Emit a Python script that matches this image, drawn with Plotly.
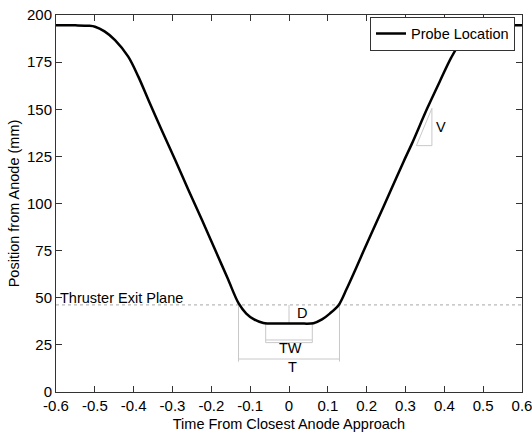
import plotly.graph_objects as go

# Probe trajectory
time_s = [-0.6, -0.55, -0.515, -0.4995, -0.475, -0.448, -0.414, -0.388, -0.362, -0.328,
          -0.293, -0.259, -0.224, -0.190, -0.158, -0.130, -0.110, -0.090, -0.066, -0.03,
          0.0, 0.03, 0.063, 0.085, 0.105, 0.128, 0.148, 0.170, 0.192, 0.227,
          0.261, 0.295, 0.316, 0.356, 0.390, 0.418, 0.445, 0.475, 0.505, 0.54, 0.6]
position_mm = [194.5, 194.5, 194.3, 193.8, 191.3, 186.7, 177.9, 167.3, 154.9, 139.0,
               123.1, 107.2, 91.2, 75.3, 60.3, 47.1, 41.6, 38.5, 36.6, 36.3,
               36.3, 36.3, 36.5, 38.5, 41.6, 46.2, 54.5, 64.5, 74.8, 90.8,
               106.5, 122.2, 131.5, 150.5, 165.5, 177.5, 186.5, 192.0, 194.2, 194.5, 194.5]

exit_plane_mm = 46.2
closest_mm = 36.4
tw_half = 0.06
t_half = 0.13
tw_bar_mm = 27.6
t_bar_mm = 17.5
v_tri_x = [0.328, 0.368, 0.368, 0.328]
v_tri_y = [130.7, 130.7, 150.5, 130.7]

x_ticks = [-0.6, -0.5, -0.4, -0.3, -0.2, -0.1, 0, 0.1, 0.2, 0.3, 0.4, 0.5, 0.6]
x_tick_text = ["-0.6", "-0.5", "-0.4", "-0.3", "-0.2", "-0.1", "0", "0.1", "0.2", "0.3", "0.4", "0.5", "0.6"]
y_ticks = [0, 25, 50, 75, 100, 125, 150, 175, 200]

FONT = "Liberation Sans, Arial, sans-serif"
GRAY = "#c8c8c8"

fig = go.Figure()

def gray_line(xs, ys, color=GRAY, dash="solid"):
    fig.add_trace(go.Scatter(x=xs, y=ys, mode="lines", showlegend=False, hoverinfo="skip",
                             line=dict(color=color, width=1, dash=dash)))

# exit plane dotted line
gray_line([-0.6, 0.6], [exit_plane_mm, exit_plane_mm], color="#a8a8a8", dash="dot")
# D
gray_line([0, 0], [exit_plane_mm, closest_mm])
# TW bracket
gray_line([-tw_half, -tw_half, tw_half, tw_half], [closest_mm, tw_bar_mm - 1.4, tw_bar_mm - 1.4, closest_mm])
gray_line([-tw_half, tw_half], [tw_bar_mm, tw_bar_mm])
# T bracket
gray_line([-t_half, -t_half], [exit_plane_mm, t_bar_mm - 1.4])
gray_line([t_half, t_half], [exit_plane_mm, t_bar_mm - 1.4])
gray_line([-t_half, t_half], [t_bar_mm, t_bar_mm])
# V triangle
gray_line(v_tri_x, v_tri_y)

fig.add_trace(go.Scatter(x=time_s, y=position_mm, mode="lines", name="Probe Location",
                         line=dict(color="black", width=2.5, shape="spline", smoothing=0.9)))

ann_font = dict(family=FONT, size=14.5, color="black")
fig.add_annotation(x=-0.595, y=50.0, text="Thruster Exit Plane", showarrow=False,
                   xanchor="left", yanchor="middle", font=ann_font)
fig.add_annotation(x=0.033, y=41.7, text="D", showarrow=False, font=ann_font)
fig.add_annotation(x=0.003, y=23.2, text="TW", showarrow=False, font=ann_font)
fig.add_annotation(x=0.008, y=13.1, text="T", showarrow=False, font=ann_font)
fig.add_annotation(x=0.392, y=140.7, text="V", showarrow=False, font=ann_font)

axis_common = dict(showgrid=False, zeroline=False, showline=True, linecolor="#333333",
                   linewidth=1, mirror="ticks", ticks="inside", ticklen=6,
                   tickcolor="#333333", automargin=False, ticklabeloverflow="allow",
                   tickfont=dict(family=FONT, size=15, color="black"))

fig.update_xaxes(range=[-0.6, 0.6], tickvals=x_ticks, ticktext=x_tick_text,
                 title=dict(text="Time From Closest Anode Approach",
                            font=dict(family=FONT, size=14.5, color="black")),
                 **axis_common)
fig.update_yaxes(range=[0, 200], tickvals=y_ticks,
                 title=dict(text="Position from Anode (mm)", standoff=3,
                            font=dict(family=FONT, size=14.5, color="black")),
                 **axis_common)

fig.update_layout(
    width=532, height=432,
    margin=dict(l=56, r=10, t=15, b=40, autoexpand=False),
    paper_bgcolor="white", plot_bgcolor="white",
    legend=dict(x=0.985, y=0.996, xanchor="right", yanchor="top",
                bgcolor="white", bordercolor="#333333", borderwidth=1,
                font=dict(family=FONT, size=14.5, color="black"),
                itemwidth=30, tracegroupgap=0),
    font=dict(family=FONT, size=14.5, color="black"),
)

fig.write_html("out.html")
